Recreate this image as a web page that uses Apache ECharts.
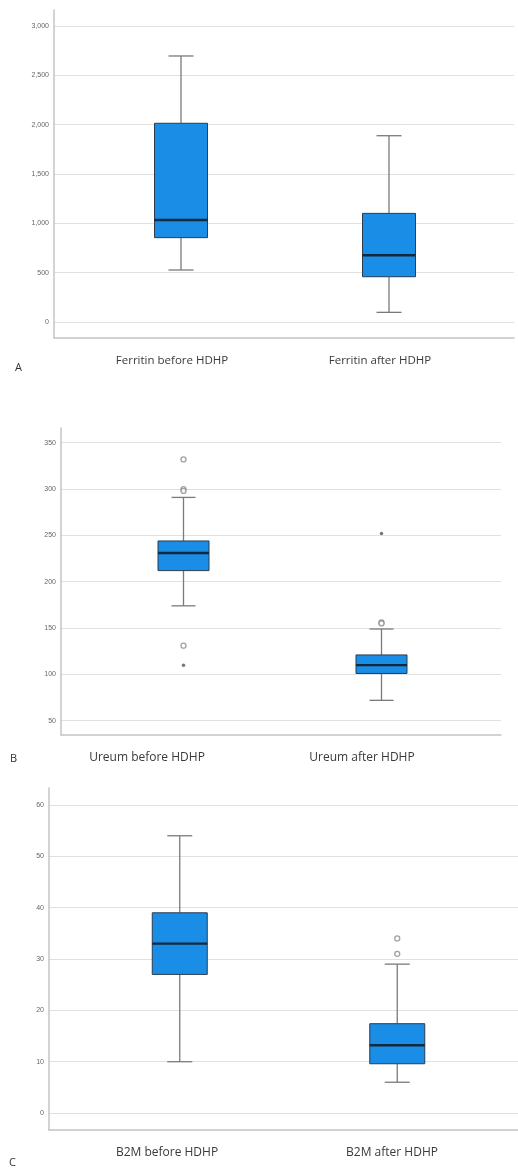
<!DOCTYPE html>
<html>
<head>
<meta charset="utf-8">
<script src="https://cdn.jsdelivr.net/npm/echarts@6/dist/echarts.min.js"></script>
<style>
  html, body { margin: 0; padding: 0; background: #fff; }
  #chart { width: 518px; height: 1169px; }
</style>
</head>
<body>
<div id="chart"></div>
<script>
// category names
const ferritinCats = ['Ferritin before HDHP', 'Ferritin after HDHP'];
const ureumCats = ['Ureum before HDHP', 'Ureum after HDHP'];
const b2mCats = ['B2M before HDHP', 'B2M after HDHP'];

// box values: [min, Q1, median, Q3, max]
const ferritinBefore = [527, 855, 1034, 2014, 2696];
const ferritinAfter = [98, 459, 676, 1101, 1888];
const ureumBefore = [174, 212, 231, 244, 291];
const ureumAfter = [72, 101, 110, 121, 149];
const b2mBefore = [10, 27, 33, 39, 54];
const b2mAfter = [6, 9.6, 13.2, 17.4, 29];

// outliers (circles) and extreme values (stars)
const ureumBeforeOutliers = [332, 300, 298, 131];
const ureumBeforeExtremes = [110];
const ureumAfterOutliers = [156, 155];
const ureumAfterExtremes = [252];
const b2mAfterOutliers = [34, 31];

const panels = [
  {
    letter: 'A', cats: ferritinCats, boxes: [ferritinBefore, ferritinAfter],
    outliers: [[], []], extremes: [[], []],
    frame: { left: 54, right: 4, top: 10, bottom: 831 }, yMin: -162, yMax: 3162,
    box: { left: 77, right: 25 }, label: { left: 68, right: 34 },
    boxW: 53, capW: 25, letterPos: [15, 362], labelSize: 11.5
  },
  {
    letter: 'B', cats: ureumCats, boxes: [ureumBefore, ureumAfter],
    outliers: [ureumBeforeOutliers, ureumAfterOutliers], extremes: [ureumBeforeExtremes, ureumAfterExtremes],
    frame: { left: 61, right: 17, top: 428, bottom: 434 }, yMin: 34.6, yMax: 365.9,
    box: { left: 84.5, right: 37.5 }, label: { left: 39.5, right: 48.5 },
    boxW: 51, capW: 24, letterPos: [10, 753], labelSize: 12
  },
  {
    letter: 'C', cats: b2mCats, boxes: [b2mBefore, b2mAfter],
    outliers: [[], b2mAfterOutliers], extremes: [[], []],
    frame: { left: 49, right: 0, top: 788, bottom: 39 }, yMin: -3.3, yMax: 63.3,
    box: { left: 71, right: 12 }, label: { left: 54.5, right: 13.5 },
    boxW: 55, capW: 25, letterPos: [9, 1157], labelSize: 12
  }
];

const FONT = 'Open Sans';
const grid = [], xAxis = [], yAxis = [], series = [], title = [];

function makeRenderer(boxW, capW) {
  return function (params, api) {
    const i = api.value(0);
    const pt = k => api.coord([i, api.value(k)]);
    const lo = pt(1), q1 = pt(2), md = pt(3), q3 = pt(4), hi = pt(5);
    const cx = lo[0];
    const wStyle = { stroke: '#7a7a7a', lineWidth: 1.3 };
    return {
      type: 'group',
      children: [
        { type: 'line', shape: { x1: cx, y1: hi[1], x2: cx, y2: q3[1] }, style: wStyle },
        { type: 'line', shape: { x1: cx, y1: q1[1], x2: cx, y2: lo[1] }, style: wStyle },
        { type: 'line', shape: { x1: cx - capW / 2, y1: hi[1], x2: cx + capW / 2, y2: hi[1] }, style: wStyle },
        { type: 'line', shape: { x1: cx - capW / 2, y1: lo[1], x2: cx + capW / 2, y2: lo[1] }, style: wStyle },
        { type: 'rect', shape: { x: cx - boxW / 2, y: q3[1], width: boxW, height: q1[1] - q3[1] },
          style: { fill: '#1a8de6', stroke: '#2b3d4f', lineWidth: 1 } },
        { type: 'line', shape: { x1: cx - boxW / 2, y1: md[1], x2: cx + boxW / 2, y2: md[1] },
          style: { stroke: '#12283d', lineWidth: 2.4 } }
      ]
    };
  };
}

panels.forEach((p, n) => {
  const g0 = n * 3, g1 = n * 3 + 1, g2 = n * 3 + 2;
  const f = p.frame;
  // frame grid: y axis, gridlines, axis lines
  grid.push({ left: f.left, right: f.right, top: f.top, bottom: f.bottom });
  // box grid
  grid.push({ left: p.box.left, right: p.box.right, top: f.top, bottom: f.bottom });
  // category label grid
  grid.push({ left: p.label.left, right: p.label.right, top: f.top, bottom: f.bottom });

  xAxis.push({
    gridIndex: g0, type: 'category', data: p.cats,
    axisLine: { onZero: false, lineStyle: { color: '#c4c4c4', width: 1.5 } },
    axisTick: { show: false }, axisLabel: { show: false }, splitLine: { show: false }
  });
  yAxis.push({
    gridIndex: g0, type: 'value', min: p.yMin, max: p.yMax,
    axisLine: { show: true, lineStyle: { color: '#c4c4c4', width: 1.5 } },
    axisTick: { show: false },
    axisLabel: {
      fontSize: 7, color: '#666', fontFamily: 'Liberation Sans', margin: 5,
      showMinLabel: false, showMaxLabel: false,
      formatter: v => v.toLocaleString('en-US')
    },
    splitLine: { show: true, showMinLine: false, showMaxLine: false, lineStyle: { color: '#e0e0e0', width: 1 } }
  });

  xAxis.push({ gridIndex: g1, type: 'category', data: p.cats, show: false });
  yAxis.push({ gridIndex: g1, type: 'value', min: p.yMin, max: p.yMax, show: false });

  xAxis.push({
    gridIndex: g2, type: 'category', data: p.cats,
    axisLine: { show: false }, axisTick: { show: false },
    axisLabel: { margin: 17, fontSize: p.labelSize, color: '#3a3a3a', fontFamily: FONT }
  });
  yAxis.push({ gridIndex: g2, type: 'value', min: p.yMin, max: p.yMax, show: false });

  series.push({
    type: 'custom', xAxisIndex: g1, yAxisIndex: g1,
    renderItem: makeRenderer(p.boxW, p.capW),
    encode: { x: 0, y: [1, 2, 3, 4, 5] },
    data: p.boxes.map((b, i) => [i].concat(b)),
    silent: true
  });

  const outData = [], extData = [];
  p.outliers.forEach((arr, i) => arr.forEach(v => outData.push([i, v])));
  p.extremes.forEach((arr, i) => arr.forEach(v => extData.push([i, v])));
  series.push({
    type: 'scatter', xAxisIndex: g1, yAxisIndex: g1, data: outData,
    symbol: 'circle', symbolSize: 5,
    itemStyle: { color: '#fff', borderColor: '#8a8a8a', borderWidth: 1.3 }, silent: true
  });
  series.push({
    type: 'scatter', xAxisIndex: g1, yAxisIndex: g1, data: extData,
    symbol: 'circle', symbolSize: 3.5,
    itemStyle: { color: '#555' }, silent: true
  });

  title.push({
    text: p.letter, left: p.letterPos[0], top: p.letterPos[1], padding: 0,
    textStyle: { fontSize: 11, fontWeight: 'normal', color: '#333', fontFamily: FONT }
  });
});

const chart = echarts.init(document.getElementById('chart'), null, { renderer: 'canvas' });
chart.setOption({
  animation: false,
  backgroundColor: '#fff',
  title: title,
  grid: grid,
  xAxis: xAxis,
  yAxis: yAxis,
  series: series
});
</script>
</body>
</html>
